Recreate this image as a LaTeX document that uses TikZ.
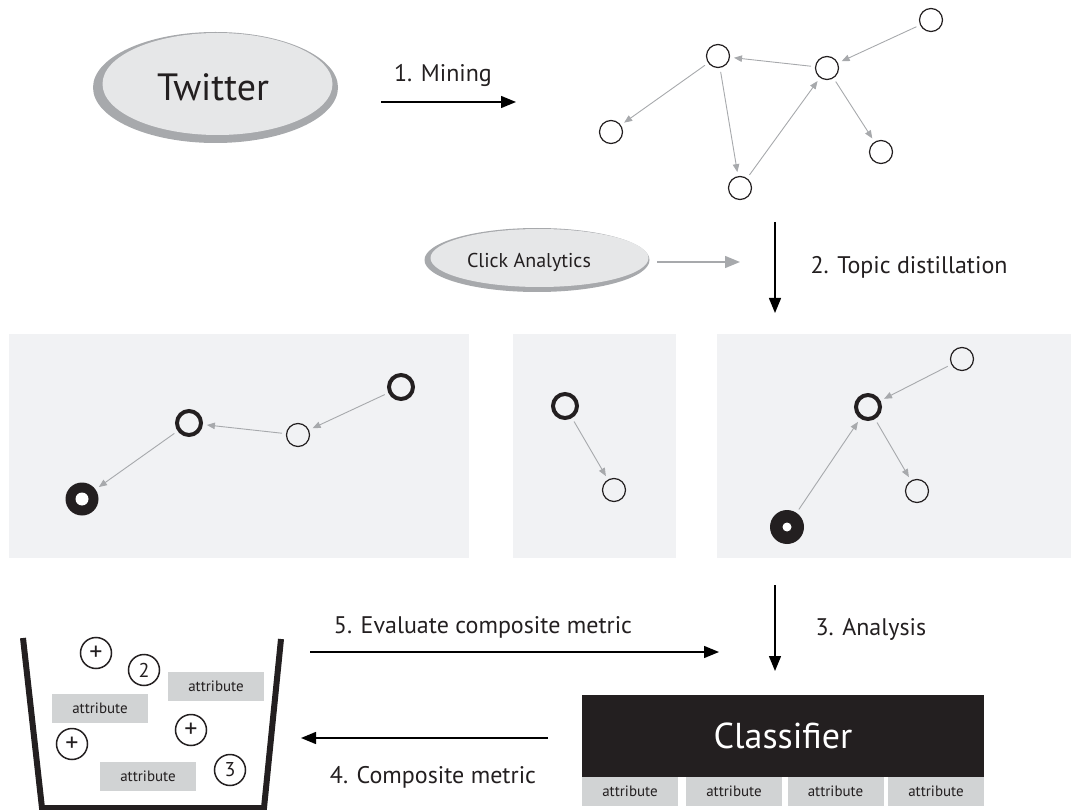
\documentclass[tikz,border=0pt]{standalone}
\usepackage{fontspec}
\setmainfont{PT Sans}
\usetikzlibrary{arrows.meta,shapes.geometric}
\definecolor{edgegray}{HTML}{A7A9AC}
\definecolor{rimgray}{HTML}{A7A9AC}
\definecolor{ellfill}{HTML}{E6E7E8}
\definecolor{panelfill}{HTML}{F1F2F4}
\definecolor{boxblack}{HTML}{231F20}
\definecolor{attrgray}{HTML}{D1D3D4}
\tikzset{
  edge/.style={draw=edgegray, line width=0.9pt, -{Triangle[length=8pt,width=6.5pt]}, shorten >=4pt, shorten <=4pt},
  bigarrow/.style={draw=black, line width=1.4pt, -{Triangle[length=15pt,width=12pt]}},
  grayarrow/.style={draw=edgegray, line width=1.4pt, -{Triangle[length=15pt,width=12pt]}},
  thinnode/.style={circle, draw=boxblack, line width=1.2pt, minimum size=23pt, inner sep=0pt},
  thicknode/.style={circle, draw=boxblack, line width=4pt, minimum size=24pt, inner sep=0pt},
  heavynode/.style={circle, fill=boxblack, minimum size=33pt, inner sep=0pt},
  panel/.style={fill=panelfill},
  lbl/.style={font=\fontsize{24}{27}\selectfont, text=boxblack},
  attr/.style={fill=attrgray, minimum width=96pt, minimum height=29pt, inner sep=0pt, font=\fontsize{15}{17}\selectfont, text=boxblack},
  token/.style={circle, draw=boxblack, line width=1.5pt, minimum size=31pt, inner sep=0pt, font=\fontsize{20}{22}\selectfont, text=boxblack},
  plustoken/.style={token, font=\fontsize{26}{28}\selectfont},
}
\begin{document}
\begin{tikzpicture}[x=1pt,y=-1pt]
\useasboundingbox (0,0) rectangle (1071,810);

% Twitter
\fill[rimgray] (215.5,87.5) ellipse [x radius=122.5, y radius=55.5];
\fill[ellfill] (217.5,84) ellipse [x radius=115, y radius=51];
\node[font=\fontsize{38}{40}\selectfont, text=boxblack] (twitter) at (213,87) {Twitter};

% 1. Mining
\coordinate (m1) at (381,102);
\coordinate (m2) at (516,102);
\draw[bigarrow] (m1) -- (m2);
\node[lbl] (mining) at (443,76) {1. Mining};

% top graph
\node[thinnode] (n1) at (931,20) {};
\node[thinnode] (n2) at (718,56) {};
\node[thinnode] (n3) at (827,68) {};
\node[thinnode] (n4) at (611,132) {};
\node[thinnode] (n5) at (881,152) {};
\node[thinnode] (n6) at (740,188) {};
\draw[edge] (n1) -- (n3);
\draw[edge] (n3) -- (n2);
\draw[edge] (n2) -- (n4);
\draw[edge] (n2) -- (n6);
\draw[edge] (n6) -- (n3);
\draw[edge] (n3) -- (n5);

% Click analytics
\fill[rimgray] (537,260) ellipse [x radius=112.5, y radius=32];
\fill[ellfill] (539.5,258) ellipse [x radius=109, y radius=29];
\node[font=\fontsize{20}{22}\selectfont, text=boxblack] (click) at (529,262) {Click Analytics};
\coordinate (c1) at (657,262);
\coordinate (c2) at (740,262);
\draw[grayarrow] (c1) -- (c2);

% 2. Topic distillation
\coordinate (t1) at (775,222);
\coordinate (t2) at (775,313);
\draw[bigarrow] (t1) -- (t2);
\node[lbl, anchor=west] (topic) at (807,267) {2. Topic distillation};

% panels
\fill[panel] (9,334) rectangle (469,558);
\fill[panel] (513,334) rectangle (676,558);
\fill[panel] (717,334) rectangle (1071,558);

% panel 1
\node[thicknode] (a1) at (401,387) {};
\node[thicknode] (a2) at (189,423) {};
\node[thinnode] (a3) at (298,435) {};
\node[heavynode] (a4) at (82,499) {};
\fill[white] (a4.center) circle (6.5);
\draw[edge] (a1) -- (a3);
\draw[edge] (a3) -- (a2);
\draw[edge] (a2) -- (a4);

% panel 2
\node[thicknode] (b1) at (565,406) {};
\node[thinnode] (b2) at (614,490) {};
\draw[edge] (b1) -- (b2);

% panel 3
\node[thinnode] (d1) at (962,359) {};
\node[thicknode] (d2) at (868,407) {};
\node[thinnode] (d3) at (917,491) {};
\node[heavynode, minimum size=34pt] (d4) at (787,527) {};
\fill[white] (d4.center) circle (4.5);
\draw[edge] (d1) -- (d2);
\draw[edge] (d4) -- (d2);
\draw[edge] (d2) -- (d3);

% 3. Analysis
\coordinate (s1) at (775,585);
\coordinate (s2) at (775,671);
\draw[bigarrow] (s1) -- (s2);
\node[lbl, anchor=west] (analysis) at (812,629) {3. Analysis};

% 5. Evaluate
\coordinate (e1) at (310,652);
\coordinate (e2) at (719,652);
\draw[bigarrow] (e1) -- (e2);
\node[lbl] (evaluate) at (483,627) {5. Evaluate composite metric};

% 4. Composite metric
\coordinate (f1) at (548,738);
\coordinate (f2) at (301,738);
\draw[bigarrow] (f1) -- (f2);
\node[lbl] (composite) at (433,777) {4. Composite metric};

% Classifier
\node[fill=boxblack, minimum width=402pt, minimum height=82pt, inner sep=0pt, text=white, font=\fontsize{36}{38}\selectfont] (classifier) at (783,736) {Classifier};
\node[attr] (k1) at (630,791.5) {attribute};
\node[attr] (k2) at (734,791.5) {attribute};
\node[attr] (k3) at (835.5,791) {attribute};
\node[attr] (k4) at (936,791) {attribute};

% bucket
\draw[line width=6pt, draw=boxblack, line join=miter] (23,638) -- (42,808) -- (264,808) -- (281,639);
\node[plustoken] (p1) at (96,653) {+};
\node[token] (q2) at (144,670) {2};
\node[attr] (r1) at (216,686) {attribute};
\node[attr] (r2) at (100,708) {attribute};
\node[plustoken] (p2) at (191,730) {+};
\node[plustoken] (p3) at (72,744) {+};
\node[attr] (r3) at (148,776) {attribute};
\node[token] (q3) at (230,770) {3};
\end{tikzpicture}
\end{document}
